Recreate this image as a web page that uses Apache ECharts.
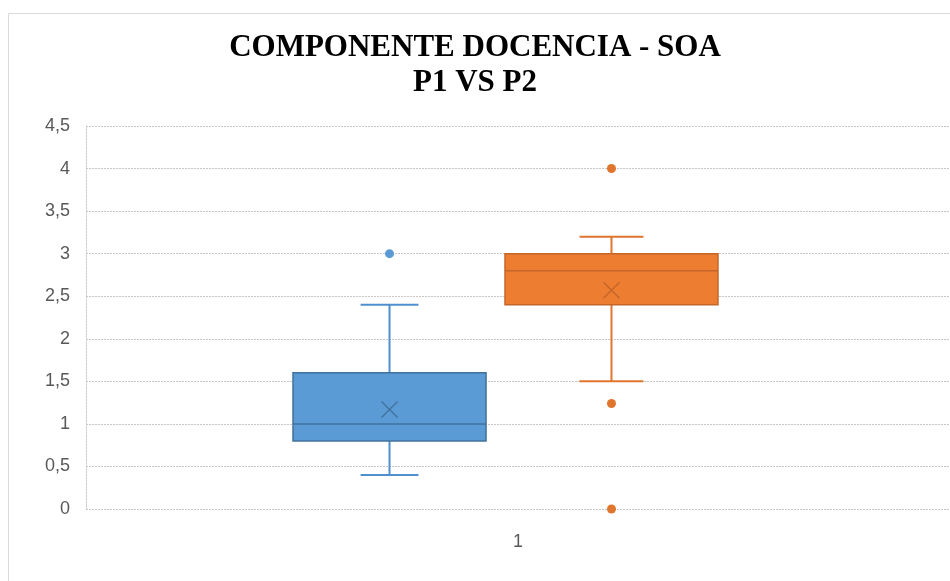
<!DOCTYPE html>
<html>
<head>
<meta charset="utf-8">
<script src="https://cdn.jsdelivr.net/npm/echarts@6/dist/echarts.min.js"></script>
<style>
  html, body { margin: 0; padding: 0; background: #ffffff; }
  #chart { width: 950px; height: 581px; }
</style>
</head>
<body>
<div id="chart"></div>
<script>
// ---- data ----
const categories = ['1'];
const seriesNames = ['P1', 'P2'];
// [min whisker, Q1, median, Q3, max whisker]
const p1Box = [0.4, 0.8, 1.0, 1.6, 2.4];
const p2Box = [1.5, 2.4, 2.8, 3.0, 3.2];
const p1Mean = 1.17;
const p2Mean = 2.57;
const p1Outliers = [3.0];
const p2Outliers = [4.0, 1.24, 0];
const yMin = 0, yMax = 4.5, yStep = 0.5;

// ---- styles / layout (not data) ----
const styles = {
  P1: { offset: -0.1487, width: 0.2234, fill: '#5B9BD5', border: '#41719C', whisker: '#4F8FCF', mean: '#41719C', dot: '#5B9BD5' },
  P2: { offset: 0.1082, width: 0.2465, fill: '#ED7D31', border: '#C4662A', whisker: '#E0752E', mean: '#C4662A', dot: '#E0752E' }
};

function boxSeries(name, box, mean) {
  const st = styles[name];
  return {
    type: 'custom',
    name: name,
    data: [[0].concat(box, [mean])],
    z: 3,
    renderItem: function (params, api) {
      const band = api.size([1, 0])[0];
      const cx = api.coord([api.value(0), 0])[0] + st.offset * band;
      const w = st.width * band;
      const cap = w * 0.3;
      const y = i => api.coord([api.value(0), api.value(i)])[1];
      const yMinW = y(1), yQ1 = y(2), yMed = y(3), yQ3 = y(4), yMaxW = y(5), yMean = y(6);
      const wl = { stroke: st.whisker, lineWidth: 2, fill: null };
      const ml = { stroke: st.mean, lineWidth: 1.3, fill: null };
      const m = 8;
      return {
        type: 'group',
        children: [
          { type: 'line', shape: { x1: cx, y1: yMaxW, x2: cx, y2: yQ3 }, style: wl },
          { type: 'line', shape: { x1: cx, y1: yQ1, x2: cx, y2: yMinW }, style: wl },
          { type: 'line', shape: { x1: cx - cap / 2, y1: yMaxW, x2: cx + cap / 2, y2: yMaxW }, style: wl },
          { type: 'line', shape: { x1: cx - cap / 2, y1: yMinW, x2: cx + cap / 2, y2: yMinW }, style: wl },
          { type: 'rect', shape: { x: cx - w / 2, y: yQ3, width: w, height: yQ1 - yQ3 },
            style: { fill: st.fill, stroke: st.border, lineWidth: 1.5 } },
          { type: 'line', shape: { x1: cx - w / 2, y1: yMed, x2: cx + w / 2, y2: yMed },
            style: { stroke: st.border, lineWidth: 1.5, fill: null } },
          { type: 'line', shape: { x1: cx - m, y1: yMean - m, x2: cx + m, y2: yMean + m }, style: ml },
          { type: 'line', shape: { x1: cx - m, y1: yMean + m, x2: cx + m, y2: yMean - m }, style: ml }
        ]
      };
    }
  };
}

function outlierSeries(name, values) {
  const st = styles[name];
  return {
    type: 'custom',
    name: name + ' outliers',
    data: values.map(v => [0, v]),
    z: 4,
    renderItem: function (params, api) {
      const band = api.size([1, 0])[0];
      const p = api.coord([api.value(0), api.value(1)]);
      return {
        type: 'circle',
        shape: { cx: p[0] + st.offset * band, cy: p[1], r: 4.5 },
        style: { fill: st.dot }
      };
    }
  };
}

const chart = echarts.init(document.getElementById('chart'), null, { renderer: 'canvas' });
chart.setOption({
  backgroundColor: '#ffffff',
  animation: false,
  title: {
    text: 'COMPONENTE DOCENCIA - SOA\nP1 VS P2',
    left: 'center',
    top: 30,
    padding: 0,
    textStyle: {
      fontFamily: 'Liberation Serif',
      fontWeight: 'bold',
      fontSize: 31,
      lineHeight: 35,
      color: '#000000'
    }
  },
  graphic: [{
    type: 'rect',
    silent: true,
    z: -10,
    shape: { x: 8.5, y: 13.5, width: 1200, height: 1200 },
    style: { fill: null, stroke: '#d9d9d9', lineWidth: 1 }
  }],
  grid: { left: 86, right: 0, top: 126, bottom: 72, outerBoundsMode: 'none', containLabel: false },
  xAxis: {
    type: 'category',
    data: categories,
    axisLine: { show: false },
    axisTick: { show: false },
    splitLine: { show: false },
    axisLabel: { color: '#595959', fontSize: 18, fontFamily: 'Liberation Sans', margin: 24 }
  },
  yAxis: {
    type: 'value',
    min: yMin,
    max: yMax,
    interval: yStep,
    axisLine: { show: true, lineStyle: { color: '#cfcfcf', type: [2, 1], width: 1 } },
    axisTick: { show: false },
    axisLabel: {
      color: '#595959', fontSize: 18, fontFamily: 'Liberation Sans', margin: 16,
      formatter: v => String(v).replace('.', ',')
    },
    splitLine: { show: true, lineStyle: { color: '#c6c6c6', type: [2, 1], width: 1 } }
  },
  series: [
    boxSeries(seriesNames[0], p1Box, p1Mean),
    boxSeries(seriesNames[1], p2Box, p2Mean),
    outlierSeries(seriesNames[0], p1Outliers),
    outlierSeries(seriesNames[1], p2Outliers)
  ]
});
</script>
</body>
</html>
